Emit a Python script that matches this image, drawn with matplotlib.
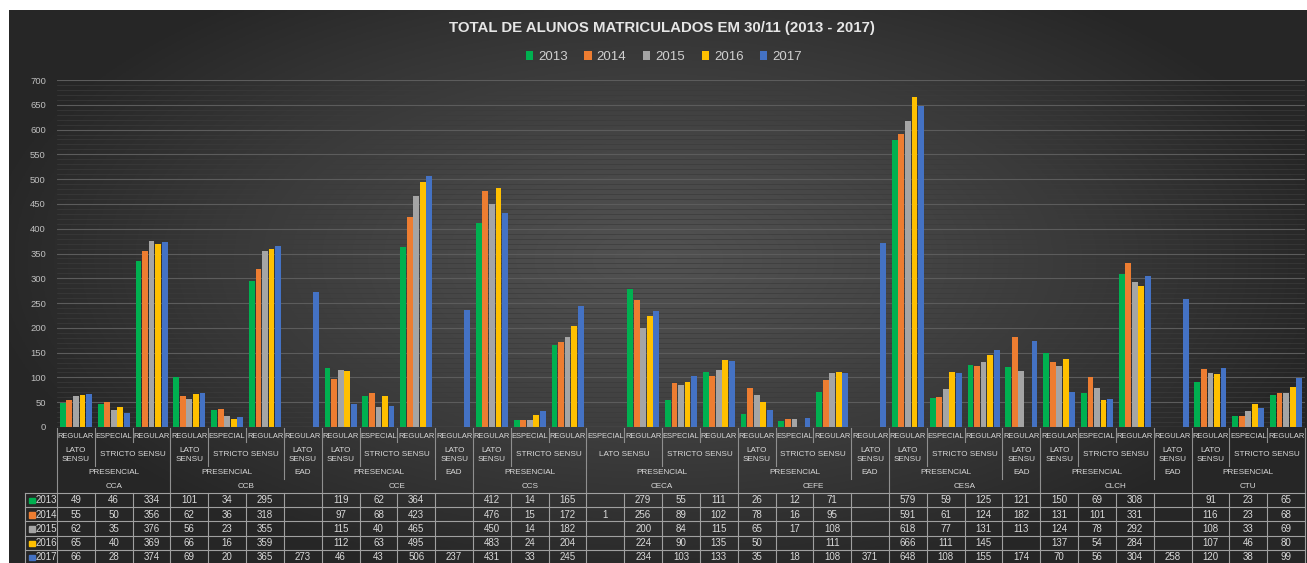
import numpy as np
import matplotlib
matplotlib.use("Agg")
import matplotlib.pyplot as plt
import matplotlib.transforms as mtransforms
from matplotlib.patches import Rectangle
from matplotlib.lines import Line2D

# ---------------- data ----------------
years = ["2013", "2014", "2015", "2016", "2017"]
colors = ["#00b050", "#ed7d31", "#a5a5a5", "#ffc000", "#4472c4"]

col_inst = (["CCA"] * 3 + ["CCB"] * 4 + ["CCE"] * 4 + ["CCS"] * 3 + ["CECA"] * 4 +
            ["CEFE"] * 4 + ["CESA"] * 4 + ["CLCH"] * 4 + ["CTU"] * 3)
P, E = "PRESENCIAL", "EAD"
L, S = "LATO SENSU", "STRICTO SENSU"
R, ES = "REGULAR", "ESPECIAL"
col_modal = ([P] * 3 + [P, P, P, E] * 2 + [P] * 3 + [P] * 4 + [P, P, P, E] * 3 + [P] * 3)
col_level = ([L, S, S] + [L, S, S, L] * 2 + [L, S, S] + [L, L, S, S] +
             [L, S, S, L] * 3 + [L, S, S])
col_type = ([R, ES, R] + [R, ES, R, R] * 2 + [R, ES, R] + [ES, R, ES, R] +
            [R, ES, R, R] * 3 + [R, ES, R])

N = None
v2013 = [49, 46, 334, 101, 34, 295, N, 119, 62, 364, N, 412, 14, 165, N, 279, 55, 111,
         26, 12, 71, N, 579, 59, 125, 121, 150, 69, 308, N, 91, 23, 65]
v2014 = [55, 50, 356, 62, 36, 318, N, 97, 68, 423, N, 476, 15, 172, 1, 256, 89, 102,
         78, 16, 95, N, 591, 61, 124, 182, 131, 101, 331, N, 116, 23, 68]
v2015 = [62, 35, 376, 56, 23, 355, N, 115, 40, 465, N, 450, 14, 182, N, 200, 84, 115,
         65, 17, 108, N, 618, 77, 131, 113, 124, 78, 292, N, 108, 33, 69]
v2016 = [65, 40, 369, 66, 16, 359, N, 112, 63, 495, N, 483, 24, 204, N, 224, 90, 135,
         50, N, 111, N, 666, 111, 145, N, 137, 54, 284, N, 107, 46, 80]
v2017 = [66, 28, 374, 69, 20, 365, 273, 46, 43, 506, 237, 431, 33, 245, N, 234, 103, 133,
         35, 18, 108, 371, 648, 108, 155, 174, 70, 56, 304, 258, 120, 38, 99]
series = [v2013, v2014, v2015, v2016, v2017]

title = "TOTAL DE ALUNOS MATRICULADOS EM 30/11 (2013 - 2017)"

# ---------------- layout ----------------
W, H = 1307, 563
FONT = ["Liberation Sans", "DejaVu Sans"]
TXT = "#d9d9d9"
LINE = "#8f8f8f"
CAT_FS = 5.4

fig = plt.figure(figsize=(W / 100, H / 100), dpi=100, facecolor="white")

def fy(py):
    return 1 - py / H

def fx(px):
    return px / W

# background radial gradient
bg = fig.add_axes([fx(9), 0, 1 - fx(9), fy(10)])
gx, gy = np.meshgrid(np.linspace(-1, 1, 400), np.linspace(-1, 1, 200))
r = np.clip(np.sqrt((gx / 1.05) ** 2 + ((gy - 0.1) / 1.2) ** 2), 0, 1)
val = 0.32 - 0.17 * r ** 1.2
bg.imshow(np.dstack([val, val, val]), extent=[0, 1, 0, 1], aspect="auto", origin="lower")
bg.set_axis_off()

ax = fig.add_axes([fx(57), fy(427), fx(1305 - 57), (427 - 80) / H])
ax.set_facecolor("none")
ncol = len(col_inst)
ax.set_xlim(0, ncol)
ax.set_ylim(0, 700)
for s in ax.spines.values():
    s.set_visible(False)
ax.set_yticks(np.arange(0, 701, 50))
ax.set_yticks(np.arange(0, 701, 10), minor=True)
ax.tick_params(axis="y", which="both", length=0, pad=8, labelsize=6.8, labelcolor="#bfbfbf")
ax.set_xticks([])
ax.grid(axis="y", which="major", color="#5c5c5c", lw=0.8)
ax.grid(axis="y", which="minor", color="#3b3b3b", lw=0.5)
ax.set_axisbelow(True)
for lab in ax.get_yticklabels():
    lab.set_family(FONT)

xs = np.arange(ncol) + 0.5
slot = 0.173
handles = []
for k, (vals, c) in enumerate(zip(series, colors)):
    x_ok = [x + (k - 2) * slot for x, v in zip(xs, vals) if v is not None]
    v_ok = [v for v in vals if v is not None]
    h = ax.bar(x_ok, v_ok, width=slot * 0.9, color=c, zorder=3)
    handles.append(h)

ax.axhline(0, color=LINE, lw=0.8, zorder=4)

bt = mtransforms.blended_transform_factory(ax.transData, fig.transFigure)

def vline(x, y1, y2, color=LINE):
    ax.add_line(Line2D([x, x], [fy(y1), fy(y2)], transform=bt, color=color, lw=0.8, clip_on=False))

# ---------------- hierarchical category labels ----------------
def runs(keys):
    out = []
    start = 0
    for i in range(1, len(keys) + 1):
        if i == len(keys) or keys[i] != keys[start]:
            out.append((start, i, keys[start]))
            start = i
    return out

for i, t in enumerate(col_type):
    ax.text(i + 0.5, fy(436), t, transform=bt, ha="center", va="center",
            fontsize=CAT_FS, color=TXT, family=FONT)

for a, b, key in runs(list(zip(col_inst, col_modal, col_level))):
    lab = key[2]
    if b - a == 1 and lab == L:
        lab = "LATO\nSENSU"
    ax.text((a + b) / 2, fy(455), lab, transform=bt, ha="center", va="center",
            fontsize=CAT_FS + 0.5, color=TXT, family=FONT, linespacing=1.35)

for a, b, key in runs(list(zip(col_inst, col_modal))):
    ax.text((a + b) / 2, fy(472), key[1], transform=bt, ha="center", va="center",
            fontsize=CAT_FS + 0.5, color=TXT, family=FONT)

for a, b, key in runs(col_inst):
    ax.text((a + b) / 2, fy(486), key, transform=bt, ha="center", va="center",
            fontsize=CAT_FS + 0.5, color=TXT, family=FONT)

for bnd in range(0, ncol + 1):
    if bnd == 0 or bnd == ncol or col_inst[bnd] != col_inst[bnd - 1]:
        y2 = 493
    elif col_modal[bnd] != col_modal[bnd - 1]:
        y2 = 479
    elif col_level[bnd] != col_level[bnd - 1]:
        y2 = 466
    else:
        y2 = 442
    vline(bnd, 428, y2)

# ---------------- data table ----------------
top = 493
rh = 14.2
tl = "#a0a0a0"
for k in range(6):
    y = top + rh * k
    fig.add_artist(Line2D([fx(25), fx(1305)], [fy(y), fy(y)], color=tl, lw=0.8))
fig.add_artist(Line2D([fx(25), fx(25)], [fy(top), fy(H + 2)], color=tl, lw=0.8))
for bnd in range(0, ncol + 1):
    vline(bnd, top, H + 2, color=tl)

for k, (vals, yr, c) in enumerate(zip(series, years, colors)):
    yc = top + rh * k + rh / 2 + 0.3
    fig.add_artist(Rectangle((fx(29), fy(yc + 3)), fx(5.5), 5.5 / H, color=c))
    fig.text(fx(35.5), fy(yc), yr, ha="left", va="center", fontsize=7, color=TXT, family=FONT)
    for i, v in enumerate(vals):
        if v is not None:
            ax.text(i + 0.5, fy(yc), str(v), transform=bt, ha="center", va="center",
                    fontsize=7, color=TXT, family=FONT)

# ---------------- title & legend ----------------
fig.text(fx(662), fy(28), title, ha="center", va="center", fontsize=10.8,
         fontweight="bold", color="#e6e6e6", family=FONT)
fig.legend(handles, years, loc="center", bbox_to_anchor=(fx(664), fy(57)), ncol=5,
           frameon=False, labelcolor="#d0d0d0", handlelength=0.55,
           handleheight=0.75, handletextpad=0.4, columnspacing=1.25,
           prop={"family": FONT, "size": 9.5})

fig.savefig("out.png", dpi=100, facecolor="white")
